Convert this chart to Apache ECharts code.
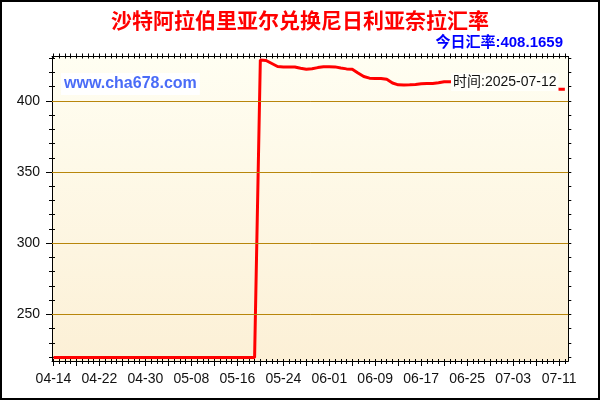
<!DOCTYPE html>
<html><head><meta charset="utf-8">
<script src="https://cdn.jsdelivr.net/npm/echarts@6/dist/echarts.min.js"></script>
<style>html,body{margin:0;padding:0;background:#fff}#c{width:600px;height:400px}</style>
</head><body><div id="c"></div>
<script>
const titleText = '沙特阿拉伯里亚尔兑换尼日利亚奈拉汇率';
const todayText = '今日汇率:408.1659';
const siteText = 'www.cha678.com';
const timeText = '时间:2025-07-12';
const tickLabels = ['04-14','04-22','04-30','05-08','05-16','05-24','06-01','06-09','06-17','06-25','07-03','07-11'];
const tickDays = [0,8,16,24,32,40,48,56,64,72,80,88];
const yMajor = [250,300,350,400];
const yMinor = [220,230,240,250,260,270,280,290,300,310,320,330,340,350,360,370,380,390,400,410,420,430];
// daily rates from 04-14 (index 0) to 07-12 (index 89)
const rates = [
  219.7,219.7,219.7,219.7,219.7,219.7,219.7,219.7,219.7,219.7,
  219.7,219.7,219.7,219.7,219.7,219.7,219.7,219.7,219.7,219.7,
  219.7,219.7,219.7,219.7,219.7,219.7,219.7,219.7,219.7,219.7,
  219.7,219.7,219.7,219.7,219.7,219.7,
  428.7,428.4,426.3,424.2,423.9,423.9,423.8,422.9,422.3,422.6,
  423.4,424.0,424.0,423.9,423.1,422.5,422.2,419.6,417.1,416.0,
  415.8,415.8,415.2,412.6,411.3,411.2,411.3,411.6,412.0,412.2,
  412.3,412.8,413.4,413.4,413.5,413.6,413.4,413.2,413.0,412.8,
  412.6,412.5,412.4,412.2,412.0,411.8,411.5,411.0,410.5,410.0,
  409.4,408.8,408.17,408.17
];

const allDays = rates.map((v, i) => i);
const every4 = allDays.filter(d => d % 4 === 0);
const seriesData = rates.map((v, i) => [i, v]);

const XMIN = -0.26, XMAX = 89.6, YMIN = 217.2, YMAX = 431.2;
const black = {color: '#000', width: 1};

function xAx(position, showLine, ticks, len, inside, label) {
  return {
    type: 'value', min: XMIN, max: XMAX, position: position,
    axisLine: {show: showLine, onZero: false, lineStyle: black},
    axisTick: {show: true, customValues: ticks, length: len, inside: inside, lineStyle: black},
    axisLabel: label || {show: false},
    splitLine: {show: false}
  };
}
function yAx(position, showLine, ticks, len, inside, label) {
  return {
    type: 'value', min: YMIN, max: YMAX, position: position,
    axisLine: {show: showLine, onZero: false, lineStyle: black},
    axisTick: {show: true, customValues: ticks, length: len, inside: inside, lineStyle: black},
    axisLabel: label || {show: false},
    splitLine: {show: false}
  };
}

const chart = echarts.init(document.getElementById('c'));
chart.setOption({
  animation: false,
  backgroundColor: '#fff',
  textStyle: {fontFamily: 'Liberation Sans, Arial, sans-serif'},
  title: [
    {text: titleText, left: 'center', top: 10, padding: 0,
     textStyle: {color: '#ff0000', fontSize: 21, fontWeight: 'bold', lineHeight: 21, fontFamily: 'Noto Sans CJK SC'}},
    {text: todayText, right: 37, top: 35, padding: 0,
     textStyle: {color: '#0000ff', fontSize: 15, fontWeight: 'bold', lineHeight: 16, fontFamily: 'Liberation Sans, Noto Sans CJK SC'}},
    {text: siteText, left: 61, top: 73, padding: [3, 3], backgroundColor: '#ffffff',
     textStyle: {color: '#4a6cf7', fontSize: 16, fontWeight: 'bold', lineHeight: 16, fontFamily: 'Liberation Sans'}},
    {text: timeText, left: 451, top: 73, padding: [2, 2], backgroundColor: '#fffffa',
     textStyle: {color: '#111', fontSize: 14, fontWeight: 'normal', lineHeight: 14, fontFamily: 'Liberation Sans, Noto Sans CJK SC'}}
  ],
  grid: {
    left: 52, right: 31.7, top: 56.5, bottom: 39, show: true, borderWidth: 0,
    backgroundColor: new echarts.graphic.LinearGradient(0, 0, 0, 1, [
      {offset: 0, color: '#fffef2'}, {offset: 1, color: '#fcf0d6'}
    ])
  },
  xAxis: [
    xAx('bottom', true, allDays, 3, false, {
      show: true, customValues: tickDays, margin: 11, fontSize: 14, color: '#111',
      fontFamily: 'Liberation Sans',
      formatter: v => tickLabels[tickDays.indexOf(Math.round(v))] || ''
    }),
    xAx('bottom', false, every4, 5, false),
    xAx('bottom', false, allDays, 2, true),
    xAx('top', true, allDays, 3, false),
    xAx('top', false, allDays, 2, true)
  ],
  yAxis: [
    yAx('left', true, yMajor, 6, false, {
      show: true, customValues: yMajor, margin: 12, fontSize: 14, color: '#111',
      fontFamily: 'Liberation Sans'
    }),
    yAx('left', false, yMinor, 3, false),
    yAx('left', false, yMinor, 3, true),
    yAx('right', true, yMinor, 3, false)
  ],
  graphic: [{
    type: 'rect', z: 100, silent: true,
    shape: {x: 1, y: 1, width: 598, height: 398},
    style: {fill: 'none', stroke: '#000', lineWidth: 2}
  }],
  series: [
    {
      type: 'line', data: seriesData, xAxisIndex: 0, yAxisIndex: 0, z: 1,
      symbol: 'none', silent: true, lineStyle: {opacity: 0},
      markLine: {
        symbol: 'none', silent: true, label: {show: false},
        lineStyle: {color: '#b8860b', type: 'solid', width: 1},
        data: yMajor.map(v => ({yAxis: v}))
      }
    },
    {
      type: 'line', data: seriesData, xAxisIndex: 0, yAxisIndex: 0, z: 3,
      symbol: 'none', silent: true,
      lineStyle: {color: '#ff0000', width: 3}
    }
  ]
});
</script>
</body></html>
